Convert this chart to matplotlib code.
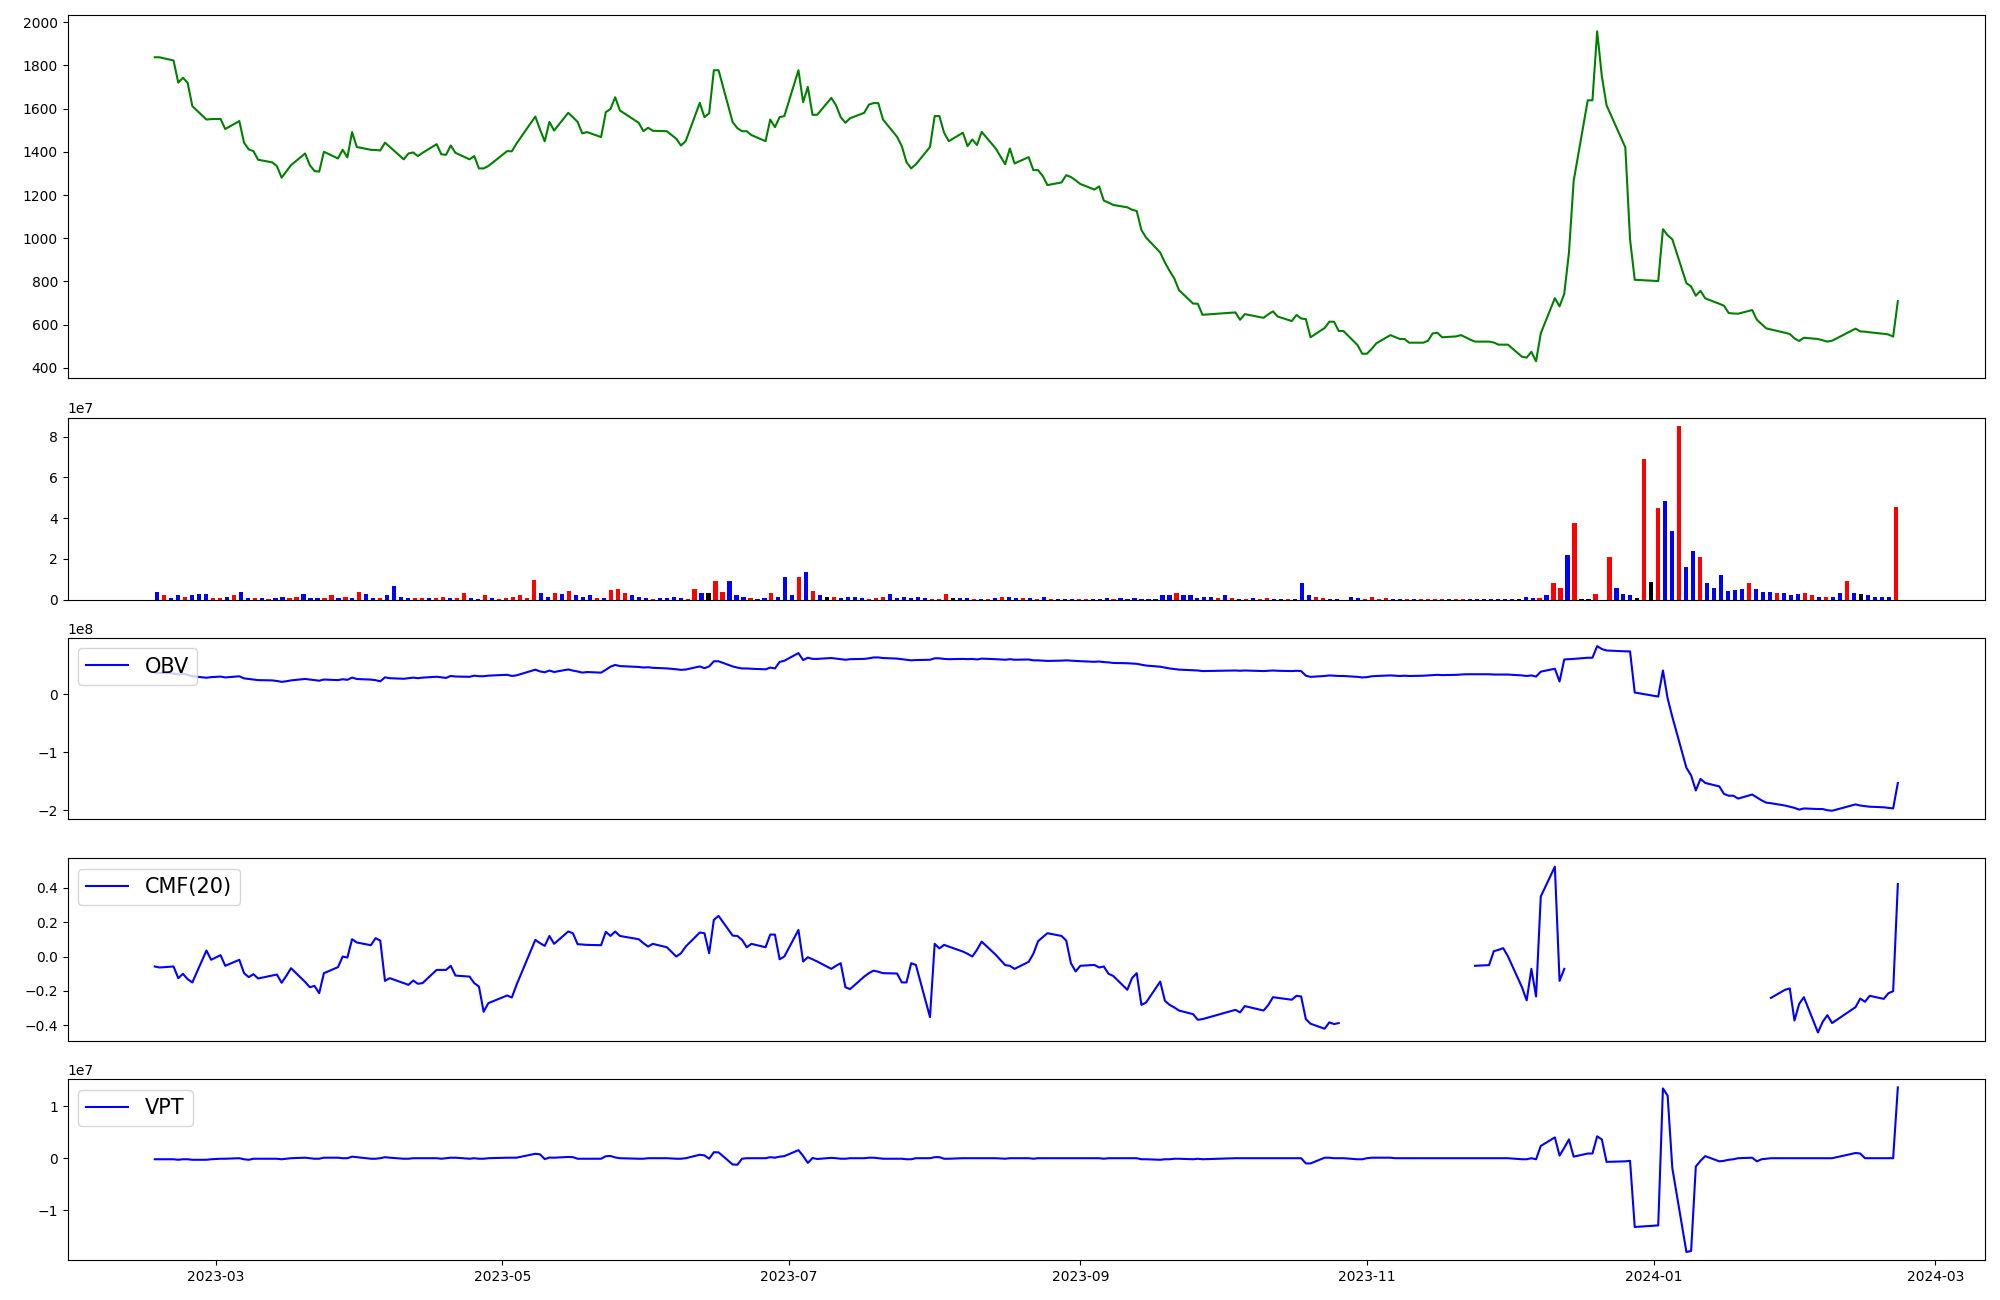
import numpy as np
import pandas as pd
import matplotlib
matplotlib.use('Agg')
import matplotlib.pyplot as plt
import matplotlib.dates as mdates

# ---------------- data ----------------
start_date = '2023-02-16'
end_date = '2024-02-22'
market_holidays = ['2023-03-01', '2023-05-01', '2023-05-05', '2023-05-29', '2023-06-06',
                   '2023-08-15', '2023-09-28', '2023-09-29', '2023-10-02', '2023-10-03',
                   '2023-10-09', '2023-12-25', '2023-12-29', '2024-01-01', '2024-02-09',
                   '2024-02-12']

close_price = [
    # 2023-02
    1837, 1837, 1822, 1720, 1742, 1719, 1611, 1549, 1551,
    # 2023-03
    1552, 1505, 1542, 1442, 1411, 1403, 1363, 1351, 1334, 1280, 1309, 1338, 1392, 1338, 1311,
    1308, 1400, 1369, 1409, 1374, 1491, 1422,
    # 2023-04
    1409, 1408, 1406, 1442, 1423, 1365, 1392, 1397, 1380, 1395, 1435, 1388, 1386, 1429, 1395,
    1365, 1380, 1323, 1323, 1334,
    # 2023-05
    1403, 1402, 1438, 1563, 1503, 1448, 1538, 1498, 1580, 1560, 1538, 1485, 1491, 1468, 1583,
    1598, 1652, 1591, 1534, 1495,
    # 2023-06
    1511, 1497, 1495, 1460, 1429, 1449, 1626, 1560, 1578, 1777, 1777, 1537, 1509, 1495, 1495,
    1477, 1449, 1549, 1514, 1560, 1565,
    # 2023-07
    1777, 1629, 1700, 1571, 1571, 1649, 1615, 1560, 1534, 1555, 1580, 1618, 1625, 1625, 1549,
    1469, 1426, 1352, 1323, 1342, 1422,
    # 2023-08
    1565, 1565, 1488, 1449, 1488, 1426, 1457, 1431, 1492, 1415, 1342, 1415, 1346, 1375, 1315,
    1315, 1288, 1246, 1258, 1292, 1283, 1268,
    # 2023-09
    1251, 1225, 1240, 1174, 1165, 1154, 1143, 1132, 1126, 1038, 1003, 934, 888, 849, 814,
    760, 698, 697, 646,
    # 2023-10
    657, 623, 649, 632, 648, 662, 638, 617, 645, 629, 626, 542, 585, 614, 614, 571, 571, 506, 466,
    # 2023-11
    466, 488, 514, 552, 543, 534, 534, 517, 517, 526, 560, 563, 542, 546, 552, 542, 531, 522,
    522, 518, 508, 508,
    # 2023-12
    508, 452, 448, 475, 431, 560, 723, 685, 743, 934, 1265, 1638, 1638, 1957, 1749, 1615, 1420,
    995, 808,
    # 2024-01
    802, 1042, 1014, 995, 792, 777, 734, 757, 722, 697, 688, 654, 652, 651, 668, 623, 603, 583,
    578, 563, 557, 537,
    # 2024-02
    525, 540, 534, 528, 522, 526, 582, 569, 568, 565, 558, 555, 545, 709,
]

# daily volume, millions of shares
volume_mn = [
    3.6, 2.0, 1.0, 2.0, 1.5, 2.0, 2.5, 2.5, 1.0, 1.0,
    1.5, 2.0, 3.6, 1.0, 1.0, 1.0, 0.5, 1.0, 1.5, 1.0,
    1.5, 2.5, 1.0, 1.0, 1.0, 2.0, 1.0, 1.5, 1.0, 3.9,
    2.5, 1.0, 1.0, 2.0, 6.9, 1.5, 1.0, 1.0, 1.0, 1.0,
    1.0, 1.5, 1.0, 1.0, 3.4, 1.0, 0.5, 2.0, 1.0, 0.5,
    1.0, 1.5, 2.0, 1.0, 9.8, 3.0, 1.5, 3.0, 2.5, 4.4,
    2.0, 1.5, 2.0, 1.0, 1.0, 4.9, 5.4, 3.0, 2.0, 1.5,
    1.0, 0.5, 1.0, 1.0, 1.5, 1.0, 0.5, 5.4, 3.0, 3.0,
    8.9, 3.9, 8.9, 2.0, 1.5, 1.0, 0.5, 1.0, 3.0, 1.5,
    11.3, 2.0, 11.3, 13.3, 4.4, 2.0, 1.5, 1.5, 1.0, 1.5,
    1.5, 1.0, 0.5, 1.0, 1.5, 2.5, 1.0, 1.5, 1.0, 1.5,
    1.0, 0.5, 0.5, 2.5, 1.0, 1.0, 1.0, 0.5, 0.5, 0.5,
    1.0, 1.5, 1.5, 1.0, 1.0, 1.0, 0.5, 1.5, 0.5, 0.5,
    0.5, 0.5, 0.5, 0.5, 0.5, 0.5, 1.0, 0.5, 1.0, 0.5,
    1.0, 0.5, 0.5, 0.5, 2.0, 2.0, 3.0, 2.0, 2.0, 1.0,
    1.5, 1.5, 1.0, 2.0, 1.0, 0.5, 0.5, 1.0, 0.5, 1.0,
    0.5, 0.5, 0.5, 0.5, 7.9, 2.0, 1.5, 1.0, 0.5, 0.5,
    0.0, 1.5, 1.0, 0.5, 1.5, 0.5, 1.0, 0.5, 0.5, 0.5,
    0.5, 0.5, 0.5, 0.5, 0.5, 0.5, 0.5, 0.5, 0.5, 0.5,
    0.5, 0.5, 0.5, 0.5, 0.5, 0.5, 1.5, 1.0, 1.0, 2.0,
    7.9, 5.9, 22.1, 37.4, 0.5, 0.5, 2.5, 0.0, 21.1, 5.9,
    2.5, 2.0, 1.0, 68.9, 8.4, 44.8, 48.2, 33.9, 85.1, 16.2,
    23.6, 21.1, 7.9, 5.9, 12.3, 4.4, 4.9, 5.4, 7.9, 5.4,
    3.9, 3.9, 3.0, 3.0, 2.0, 2.5, 3.4, 2.0, 1.5, 1.5,
    1.5, 3.0, 8.9, 3.0, 2.5, 2.0, 1.5, 1.5, 1.5, 45.2,
]

# candle direction of each day: R = close above open, B = below, K = unchanged
candle_dir = list(
    "BRBBRBBBRR" "BRBBRBRBBR" "RBBBRRBRBR" "BBRBBBBRRB" "RRBRRBBRBR"
    "RRRRRBBRBR" "BBBRBRRRBB" "BRBBBBRRBK" "RRBBBRBBRB" "BBRBRBKRBB"
    "BBRRRBBBBB" "BRRRKBBRBR" "BRBBRBRBRB" "BBRRBBBRBB" "BBBBBBRBBB"
    "BBRBRBRBRR" "BBRBBBRRBB" "KBBRRRRBBR" "BRRRRBRRBB" "BBBBBKBBRB"
    "RRBRKKRKRB" "BBKRKRBBRB" "BRBBBBBBRB" "BBRBBBRRBR" "BBRBKBBBBR"
)

# On-Balance Volume, units of 1e8
obv_1e8 = [
    0.37, 0.37, 0.36, 0.34, 0.355, 0.335, 0.31, 0.285, 0.295, 0.305,
    0.29, 0.31, 0.274, 0.264, 0.254, 0.244, 0.239, 0.229, 0.214, 0.224,
    0.239, 0.264, 0.254, 0.244, 0.234, 0.254, 0.244, 0.259, 0.249, 0.288,
    0.263, 0.253, 0.243, 0.223, 0.292, 0.277, 0.267, 0.277, 0.287, 0.277,
    0.287, 0.302, 0.292, 0.282, 0.316, 0.306, 0.301, 0.321, 0.311, 0.311,
    0.321, 0.336, 0.316, 0.326, 0.424, 0.394, 0.379, 0.409, 0.384, 0.428,
    0.408, 0.393, 0.373, 0.383, 0.373, 0.422, 0.476, 0.506, 0.486, 0.471,
    0.461, 0.466, 0.456, 0.446, 0.431, 0.421, 0.426, 0.48, 0.45, 0.48,
    0.569, 0.569, 0.48, 0.46, 0.445, 0.445, 0.44, 0.43, 0.46, 0.445,
    0.558, 0.578, 0.71, 0.59, 0.63, 0.61, 0.61, 0.625, 0.615, 0.605,
    0.595, 0.605, 0.61, 0.62, 0.635, 0.635, 0.625, 0.615, 0.605, 0.595,
    0.585, 0.59, 0.595, 0.62, 0.62, 0.61, 0.605, 0.61, 0.605, 0.61,
    0.60, 0.615, 0.605, 0.595, 0.605, 0.595, 0.60, 0.585, 0.585, 0.58,
    0.575, 0.58, 0.585, 0.58, 0.575, 0.57, 0.56, 0.565, 0.555, 0.55,
    0.54, 0.535, 0.53, 0.525, 0.51, 0.495, 0.475, 0.46, 0.445, 0.435,
    0.425, 0.415, 0.41, 0.40, 0.41, 0.405, 0.41, 0.40, 0.405, 0.41,
    0.405, 0.40, 0.405, 0.40, 0.32, 0.30, 0.315, 0.325, 0.32, 0.315,
    0.315, 0.30, 0.29, 0.295, 0.31, 0.315, 0.325, 0.32, 0.315, 0.32,
    0.315, 0.32, 0.325, 0.33, 0.335, 0.33, 0.335, 0.34, 0.345, 0.345,
    0.345, 0.345, 0.34, 0.34, 0.34, 0.34, 0.325, 0.315, 0.325, 0.305,
    0.39, 0.44, 0.22, 0.60, 0.605, 0.61, 0.63, 0.63, 0.83, 0.78,
    0.755, 0.74, 0.74, 0.03, -0.04, 0.41, -0.07, -0.39, -1.27, -1.40,
    -1.66, -1.46, -1.53, -1.59, -1.72, -1.75, -1.75, -1.80, -1.73, -1.78,
    -1.83, -1.87, -1.88, -1.92, -1.94, -1.96, -1.99, -1.97, -1.98, -1.98,
    -2.00, -2.01, -1.90, -1.92, -1.93, -1.94, -1.95, -1.96, -1.97, -1.53,
]

# Chaikin Money Flow (20); None where the indicator is undefined
cmf_20 = [
    -0.058, -0.064, -0.058, -0.126, -0.101, -0.132, -0.151, 0.035, -0.019, 0.008,
    -0.054, -0.019, -0.097, -0.120, -0.103, -0.128, -0.111, -0.105, -0.153, -0.113,
    -0.068, -0.148, -0.179, -0.171, -0.214, -0.097, -0.062, 0.0, -0.006, 0.101,
    0.082, 0.066, 0.107, 0.093, -0.142, -0.126, -0.155, -0.165, -0.140, -0.159,
    -0.155, -0.078, -0.078, -0.078, -0.054, -0.111, -0.117, -0.155, -0.175, -0.322,
    -0.272, -0.227, -0.239, -0.165, 0.097, 0.078, 0.062, 0.120, 0.074, 0.146,
    0.136, 0.072, 0.070, 0.068, 0.066, 0.144, 0.120, 0.146, 0.120, 0.101,
    0.078, 0.058, 0.074, 0.054, 0.0, 0.019, 0.058, 0.140, 0.136, 0.019,
    0.214, 0.237, 0.122, 0.120, 0.097, 0.054, 0.074, 0.054, 0.128, 0.128,
    -0.016, 0.0, 0.155, -0.029, -0.004, -0.016, -0.029, -0.072, -0.054, -0.039,
    -0.179, -0.190, -0.117, -0.097, -0.082, -0.089, -0.097, -0.099, -0.151, -0.151,
    -0.039, -0.049, -0.353, 0.074, 0.047, 0.068, 0.058, 0.029, 0.016, 0.0,
    0.039, 0.087, 0.010, -0.050, -0.054, -0.072, -0.031, 0.016, 0.089, 0.113,
    0.136, 0.120, 0.093, -0.039, -0.087, -0.054, -0.049, -0.064, -0.058, -0.101,
    -0.113, -0.194, -0.126, -0.097, -0.282, -0.268, -0.146, -0.258, -0.282, -0.297,
    -0.315, -0.336, -0.369, -0.365, -0.311, -0.326, -0.289, -0.315, -0.283, -0.237,
    -0.241, -0.252, -0.229, -0.233, -0.365, -0.392, -0.421, -0.384, -0.394, -0.388,
    None, None, None, None, None, None, None, None, None, None,
    None, None, None, None, None, None, None, None, None, None,
    -0.054, -0.050, 0.031, 0.039, 0.049, 0.002, -0.179, -0.256, -0.072, -0.233,
    0.350, 0.524, -0.142, -0.072, None, None, None, None, None, None,
    None, None, None, None, None, None, None, None, None, None,
    None, None, None, None, None, None, None, None, None, None,
    None, None, -0.241, -0.194, -0.186, -0.373, -0.276, -0.237, -0.443, -0.381,
    -0.342, -0.388, -0.295, -0.245, -0.264, -0.229, -0.247, -0.214, -0.202, 0.423,
]

# Volume Price Trend, units of 1e7
vpt_1e7 = [
    -0.02, -0.02, -0.02, -0.03, -0.02, -0.02, -0.03, -0.03, -0.02, -0.01,
    -0.01, 0.0, -0.02, -0.03, -0.01, -0.01, -0.01, -0.01, -0.02, -0.01,
    0.0, 0.01, 0.0, -0.01, -0.01, 0.01, 0.01, 0.0, 0.0, 0.03,
    0.02, -0.01, -0.01, 0.0, 0.02, 0.01, -0.01, -0.01, 0.0, 0.0,
    0.0, 0.0, -0.01, 0.0, 0.01, 0.01, -0.01, 0.0, -0.01, -0.01,
    0.0, 0.01, 0.01, 0.01, 0.085, 0.074, -0.017, 0.013, 0.01, 0.024,
    0.02, -0.01, -0.01, -0.01, -0.01, 0.038, 0.043, 0.015, 0.0, -0.01,
    -0.01, 0.0, 0.0, 0.0, -0.01, -0.01, 0.0, 0.066, 0.054, -0.01,
    0.115, 0.112, -0.12, -0.125, -0.01, 0.0, 0.0, 0.0, 0.02, 0.01,
    0.03, 0.04, 0.155, 0.043, -0.09, 0.004, -0.015, 0.007, 0.0, -0.01,
    -0.01, 0.0, 0.0, 0.01, 0.01, 0.0, -0.01, -0.01, -0.01, -0.02,
    -0.02, 0.0, 0.0, 0.02, 0.02, -0.01, -0.01, 0.0, 0.0, 0.0,
    0.0, 0.0, 0.0, -0.01, 0.0, 0.0, 0.0, -0.01, 0.0, 0.0,
    0.0, 0.0, 0.0, 0.0, 0.0, 0.0, 0.0, 0.0, -0.01, 0.0,
    0.0, 0.0, 0.0, 0.0, -0.02, -0.02, -0.03, -0.02, -0.02, -0.01,
    -0.01, -0.02, -0.01, -0.02, 0.0, 0.0, 0.0, 0.0, 0.0, 0.0,
    0.0, 0.0, 0.0, 0.0, -0.10, -0.10, 0.01, 0.01, 0.0, 0.0,
    0.0, -0.02, -0.02, 0.0, 0.01, 0.01, 0.01, 0.0, 0.0, 0.0,
    0.0, 0.0, 0.0, 0.0, 0.0, 0.0, 0.0, 0.0, 0.0, 0.0,
    0.0, 0.0, 0.0, 0.0, 0.0, 0.0, -0.02, -0.02, 0.0, -0.02,
    0.235, 0.40, 0.05, 0.20, 0.36, 0.03, 0.09, 0.09, 0.42, 0.36,
    -0.07, -0.06, -0.05, -1.32, -1.29, 1.34, 1.20, -0.19, -1.80, -1.78,
    -0.16, -0.05, 0.04, -0.06, -0.05, -0.03, -0.02, 0.0, 0.01, -0.06,
    -0.02, -0.01, 0.0, 0.0, 0.0, 0.0, 0.0, 0.0, 0.0, 0.0,
    0.0, 0.0, 0.10, 0.09, 0.0, 0.0, 0.0, 0.0, 0.0, 1.36,
]

# ---------------- build series ----------------
dates = pd.bdate_range(start_date, end_date)
dates = dates[~dates.isin(pd.to_datetime(market_holidays))]
n = len(dates)
for name, arr in [('close', close_price), ('volume', volume_mn), ('dir', candle_dir),
                  ('obv', obv_1e8), ('cmf', cmf_20), ('vpt', vpt_1e7)]:
    if len(arr) != n:
        raise SystemExit(f'{name}: {len(arr)} != {n}')

close = np.array(close_price, dtype=float)
volume = np.array(volume_mn, dtype=float) * 1e6
obv = np.array(obv_1e8, dtype=float) * 1e8
cmf = np.array([np.nan if v is None else v for v in cmf_20], dtype=float)
vpt = np.array(vpt_1e7, dtype=float) * 1e7
dir_colors = {'R': 'red', 'B': 'blue', 'K': 'black'}
bar_colors = [dir_colors[c] for c in candle_dir]

# ---------------- figure ----------------
fig = plt.figure(figsize=(20, 13), dpi=100)
L, W = 0.0338, 0.9587
ax_price = fig.add_axes([L, 0.7094, W, 0.2792])
ax_vol = fig.add_axes([L, 0.5388, W, 0.1400])
ax_obv = fig.add_axes([L, 0.3700, W, 0.1393])
ax_cmf = fig.add_axes([L, 0.1994, W, 0.1403])
ax_vpt = fig.add_axes([L, 0.0306, W, 0.1393])

ax_price.plot(dates, close, color='green')
ax_price.set_xticks([])

ax_vol.bar(np.arange(n), volume, color=bar_colors, width=0.6)
ax_vol.set_xticks([])

ax_obv.plot(dates, obv, color='blue', label='OBV')
ax_obv.legend(loc='upper left', fontsize=15)
ax_obv.set_xticks([])

ax_cmf.plot(dates, cmf, color='blue', label='CMF(20)')
ax_cmf.legend(loc='upper left', fontsize=15)
ax_cmf.set_xticks([])

ax_vpt.plot(dates, vpt, color='blue', label='VPT')
ax_vpt.legend(loc='upper left', fontsize=15)
ax_vpt.xaxis.set_major_locator(mdates.MonthLocator(bymonth=[1, 3, 5, 7, 9, 11]))
ax_vpt.xaxis.set_major_formatter(mdates.DateFormatter('%Y-%m'))

fig.savefig('out.png', dpi=100)
